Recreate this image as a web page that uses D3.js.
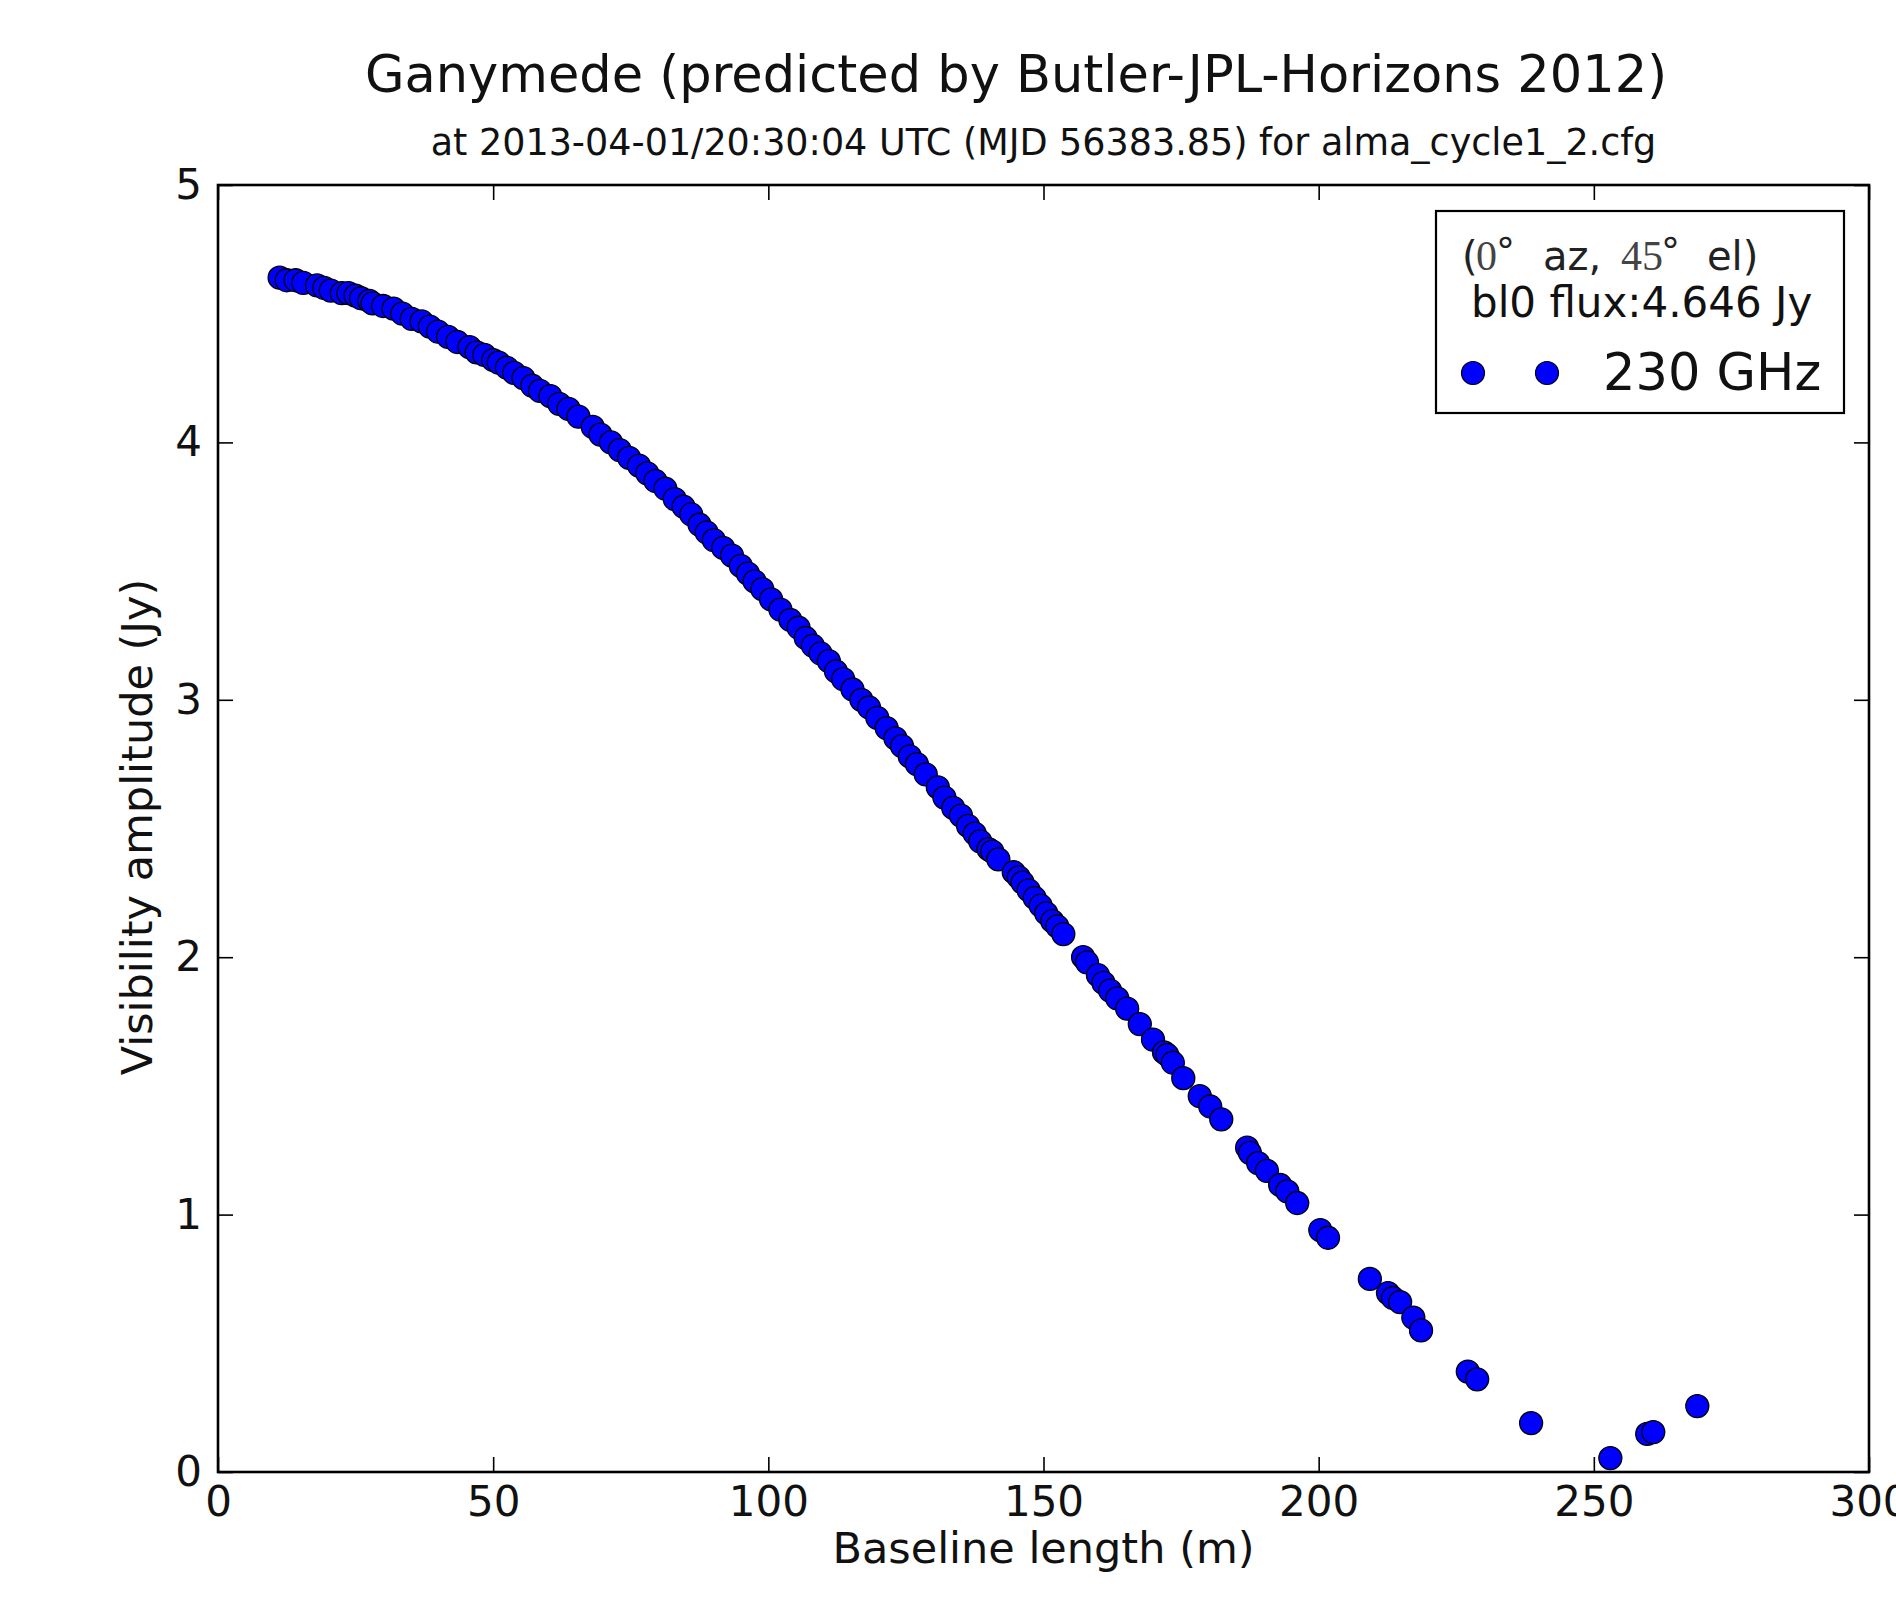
<!DOCTYPE html>
<html><head><meta charset="utf-8">
<script src="https://cdn.jsdelivr.net/npm/d3@7"></script>
<style>
body{margin:0;background:#fff;}
svg{display:block;font-family:"DejaVu Sans",sans-serif;}
</style></head><body>
<svg id="chart" width="1896" height="1597"></svg>
<script>
// ---- data ----
const baselines = [
 11.2,12.5,14.1,15.5,18.0,19.3,20.5,22.5,23.7,25.0,26.0,27.5,28.1,30.0,31.9,33.5,35.2,37.0,38.5,40.0,
 41.8,43.5,45.7,47.0,48.4,50.0,51.0,52.5,53.8,55.5,57.1,58.5,60.4,62.0,63.7,65.5,68.1,69.5,71.4,73.0,
 74.7,76.5,78.0,79.5,81.3,83.0,84.6,86.0,87.5,88.8,90.1,91.8,93.4,95.0,96.3,97.5,98.9,100.5,102.2,104.0,
 105.5,106.8,108.1,109.5,111.0,112.3,113.6,115.3,116.9,118.3,119.8,121.5,123.1,124.3,125.7,127.0,128.6,130.8,132.0,133.6,
 135.0,136.3,137.5,138.5,140.0,140.7,141.8,
 144.6,145.5,146.2,147.3,148.4,149.5,150.5,151.6,152.5,153.6,
 157.2,157.9,159.9,160.9,162.1,163.4,165.2,167.5,169.9,171.9,172.5,173.5,175.4,178.4,180.3,182.3,
 187.0,187.5,189.0,190.6,193.0,194.3,196.1,200.3,201.7,209.3,212.6,213.5,214.8,217.2,218.6,227.1,228.8,238.6,253.0,259.7,260.8,268.8
];
const amplitudes = [
 4.64,4.63,4.63,4.62,4.61,4.60,4.59,4.58,4.58,4.57,4.56,4.55,4.54,4.53,4.52,4.50,4.48,4.47,4.45,4.43,
 4.41,4.39,4.37,4.35,4.34,4.32,4.31,4.29,4.27,4.25,4.22,4.20,4.18,4.15,4.13,4.10,4.06,4.03,4.00,3.97,
 3.94,3.91,3.88,3.85,3.82,3.78,3.75,3.72,3.68,3.65,3.62,3.59,3.56,3.52,3.49,3.46,3.43,3.39,3.35,3.31,
 3.28,3.24,3.21,3.18,3.15,3.11,3.08,3.04,3.00,2.97,2.93,2.89,2.85,2.82,2.78,2.75,2.71,2.66,2.62,2.58,
 2.55,2.51,2.48,2.45,2.42,2.41,2.38,
 2.33,2.31,2.29,2.26,2.23,2.20,2.17,2.14,2.12,2.09,
 2.00,1.98,1.93,1.90,1.87,1.84,1.80,1.74,1.68,1.63,1.62,1.59,1.53,1.46,1.42,1.37,
 1.26,1.24,1.20,1.17,1.115,1.09,1.045,0.94,0.91,0.75,0.695,0.676,0.66,0.60,0.55,0.39,0.36,0.19,0.054,0.148,0.155,0.256
];
const xTicks = [0, 50, 100, 150, 200, 250, 300];
const yTicks = [0, 1, 2, 3, 4, 5];
const xDomain = [0, 300];
const yDomain = [0, 5];
const titleText = "Ganymede (predicted by Butler-JPL-Horizons 2012)";
const subtitleText = "at 2013-04-01/20:30:04 UTC (MJD 56383.85) for alma_cycle1_2.cfg";
const xLabelText = "Baseline length (m)";
const yLabelText = "Visibility amplitude (Jy)";
const legendLine1 = [
  {t:"(", serif:false}, {t:"0", serif:true}, {t:"°", serif:false, sup:true},
  {t:"az,", serif:false}, {t:"45", serif:true}, {t:"°", serif:false, sup:true}, {t:"el)", serif:false}
];
const legendLine2 = "bl0 flux:4.646 Jy";
const seriesName = "230 GHz";

const points = baselines.map((b, i) => ({b, a: amplitudes[i]}));

// ---- layout ----
const L = 218, R = 1869, T = 185, B = 1472;
const sans = "DejaVu Sans, sans-serif";
const svg = d3.select("#chart");
const x = d3.scaleLinear().domain(xDomain).range([L, R]);
const y = d3.scaleLinear().domain(yDomain).range([B, T]);

function styleAxis(g, labels) {
  g.select(".domain").remove();
  g.attr("font-family", sans).attr("font-size", 42);
  g.selectAll(".tick line").attr("stroke", "#000").attr("stroke-width", 1.6);
  g.selectAll(".tick text").attr("fill", "#111");
  if (!labels) g.selectAll(".tick text").remove();
}

svg.append("g").attr("transform", `translate(0,${B})`)
  .call(d3.axisBottom(x).tickValues(xTicks).tickSizeInner(-15).tickSizeOuter(0).tickPadding(14).tickFormat(d3.format("d")))
  .call(g => styleAxis(g, true));
svg.append("g").attr("transform", `translate(0,${T})`)
  .call(d3.axisTop(x).tickValues(xTicks).tickSizeInner(-15).tickSizeOuter(0))
  .call(g => styleAxis(g, false));
svg.append("g").attr("transform", `translate(${L},0)`)
  .call(d3.axisLeft(y).tickValues(yTicks).tickSizeInner(-15).tickSizeOuter(0).tickPadding(16).tickFormat(d3.format("d")))
  .call(g => styleAxis(g, true));
svg.append("g").attr("transform", `translate(${R},0)`)
  .call(d3.axisRight(y).tickValues(yTicks).tickSizeInner(-15).tickSizeOuter(0))
  .call(g => styleAxis(g, false));

// frame
svg.append("rect").attr("x", L).attr("y", T).attr("width", R - L).attr("height", B - T)
  .attr("fill", "none").attr("stroke", "#000").attr("stroke-width", 2.6);

// points
svg.append("g").selectAll("circle").data(points).join("circle")
  .attr("cx", d => x(d.b)).attr("cy", d => y(d.a)).attr("r", 11.5)
  .attr("fill", "#0000ff").attr("stroke", "#000").attr("stroke-width", 1.3);

// titles
svg.append("text").attr("x", 1016).attr("y", 92).attr("text-anchor", "middle")
  .attr("font-family", sans).attr("font-size", 51).attr("fill", "#111").text(titleText);
svg.append("text").attr("x", (L + R) / 2).attr("y", 155).attr("text-anchor", "middle")
  .attr("font-family", sans).attr("font-size", 36.5).attr("fill", "#111").text(subtitleText);

// axis labels
svg.append("text").attr("x", (L + R) / 2).attr("y", 1563).attr("text-anchor", "middle")
  .attr("font-family", sans).attr("font-size", 43).attr("fill", "#111").text(xLabelText);
svg.append("text").attr("transform", `translate(152,827) rotate(-90)`).attr("text-anchor", "middle")
  .attr("font-family", sans).attr("font-size", 43).attr("fill", "#111").text(yLabelText);

// legend
const lg = svg.append("g");
lg.append("rect").attr("x", 1436).attr("y", 211).attr("width", 408).attr("height", 202)
  .attr("fill", "#fff").attr("stroke", "#000").attr("stroke-width", 2.2);
const l1 = lg.append("text").attr("x", 1463).attr("y", 270).attr("font-size", 40).attr("fill", "#222").attr("font-family", sans);
const l1x = [1462, 1476, 1496, 1543, 1621, 1661, 1707];
legendLine1.forEach((p, i) => {
  l1.append("tspan").attr("x", l1x[i])
    .attr("y", p.sup ? 264 : 270)
    .attr("font-family", p.serif ? "Liberation Serif, serif" : sans)
    .attr("font-size", p.sup ? 38 : (p.serif ? 42 : 40))
    .attr("fill", p.serif ? "#444" : "#222")
    .text(p.t);
});
lg.append("text").attr("x", 1471).attr("y", 317).attr("font-family", sans).attr("font-size", 42)
  .attr("fill", "#111").text(legendLine2);
lg.selectAll("circle.lm").data([1473, 1547]).join("circle").attr("class", "lm")
  .attr("cx", d => d).attr("cy", 373).attr("r", 11.5)
  .attr("fill", "#0000ff").attr("stroke", "#000").attr("stroke-width", 1.2);
lg.append("text").attr("x", 1603).attr("y", 390).attr("font-family", sans).attr("font-size", 51)
  .attr("fill", "#111").text(seriesName);
</script>
</body></html>
